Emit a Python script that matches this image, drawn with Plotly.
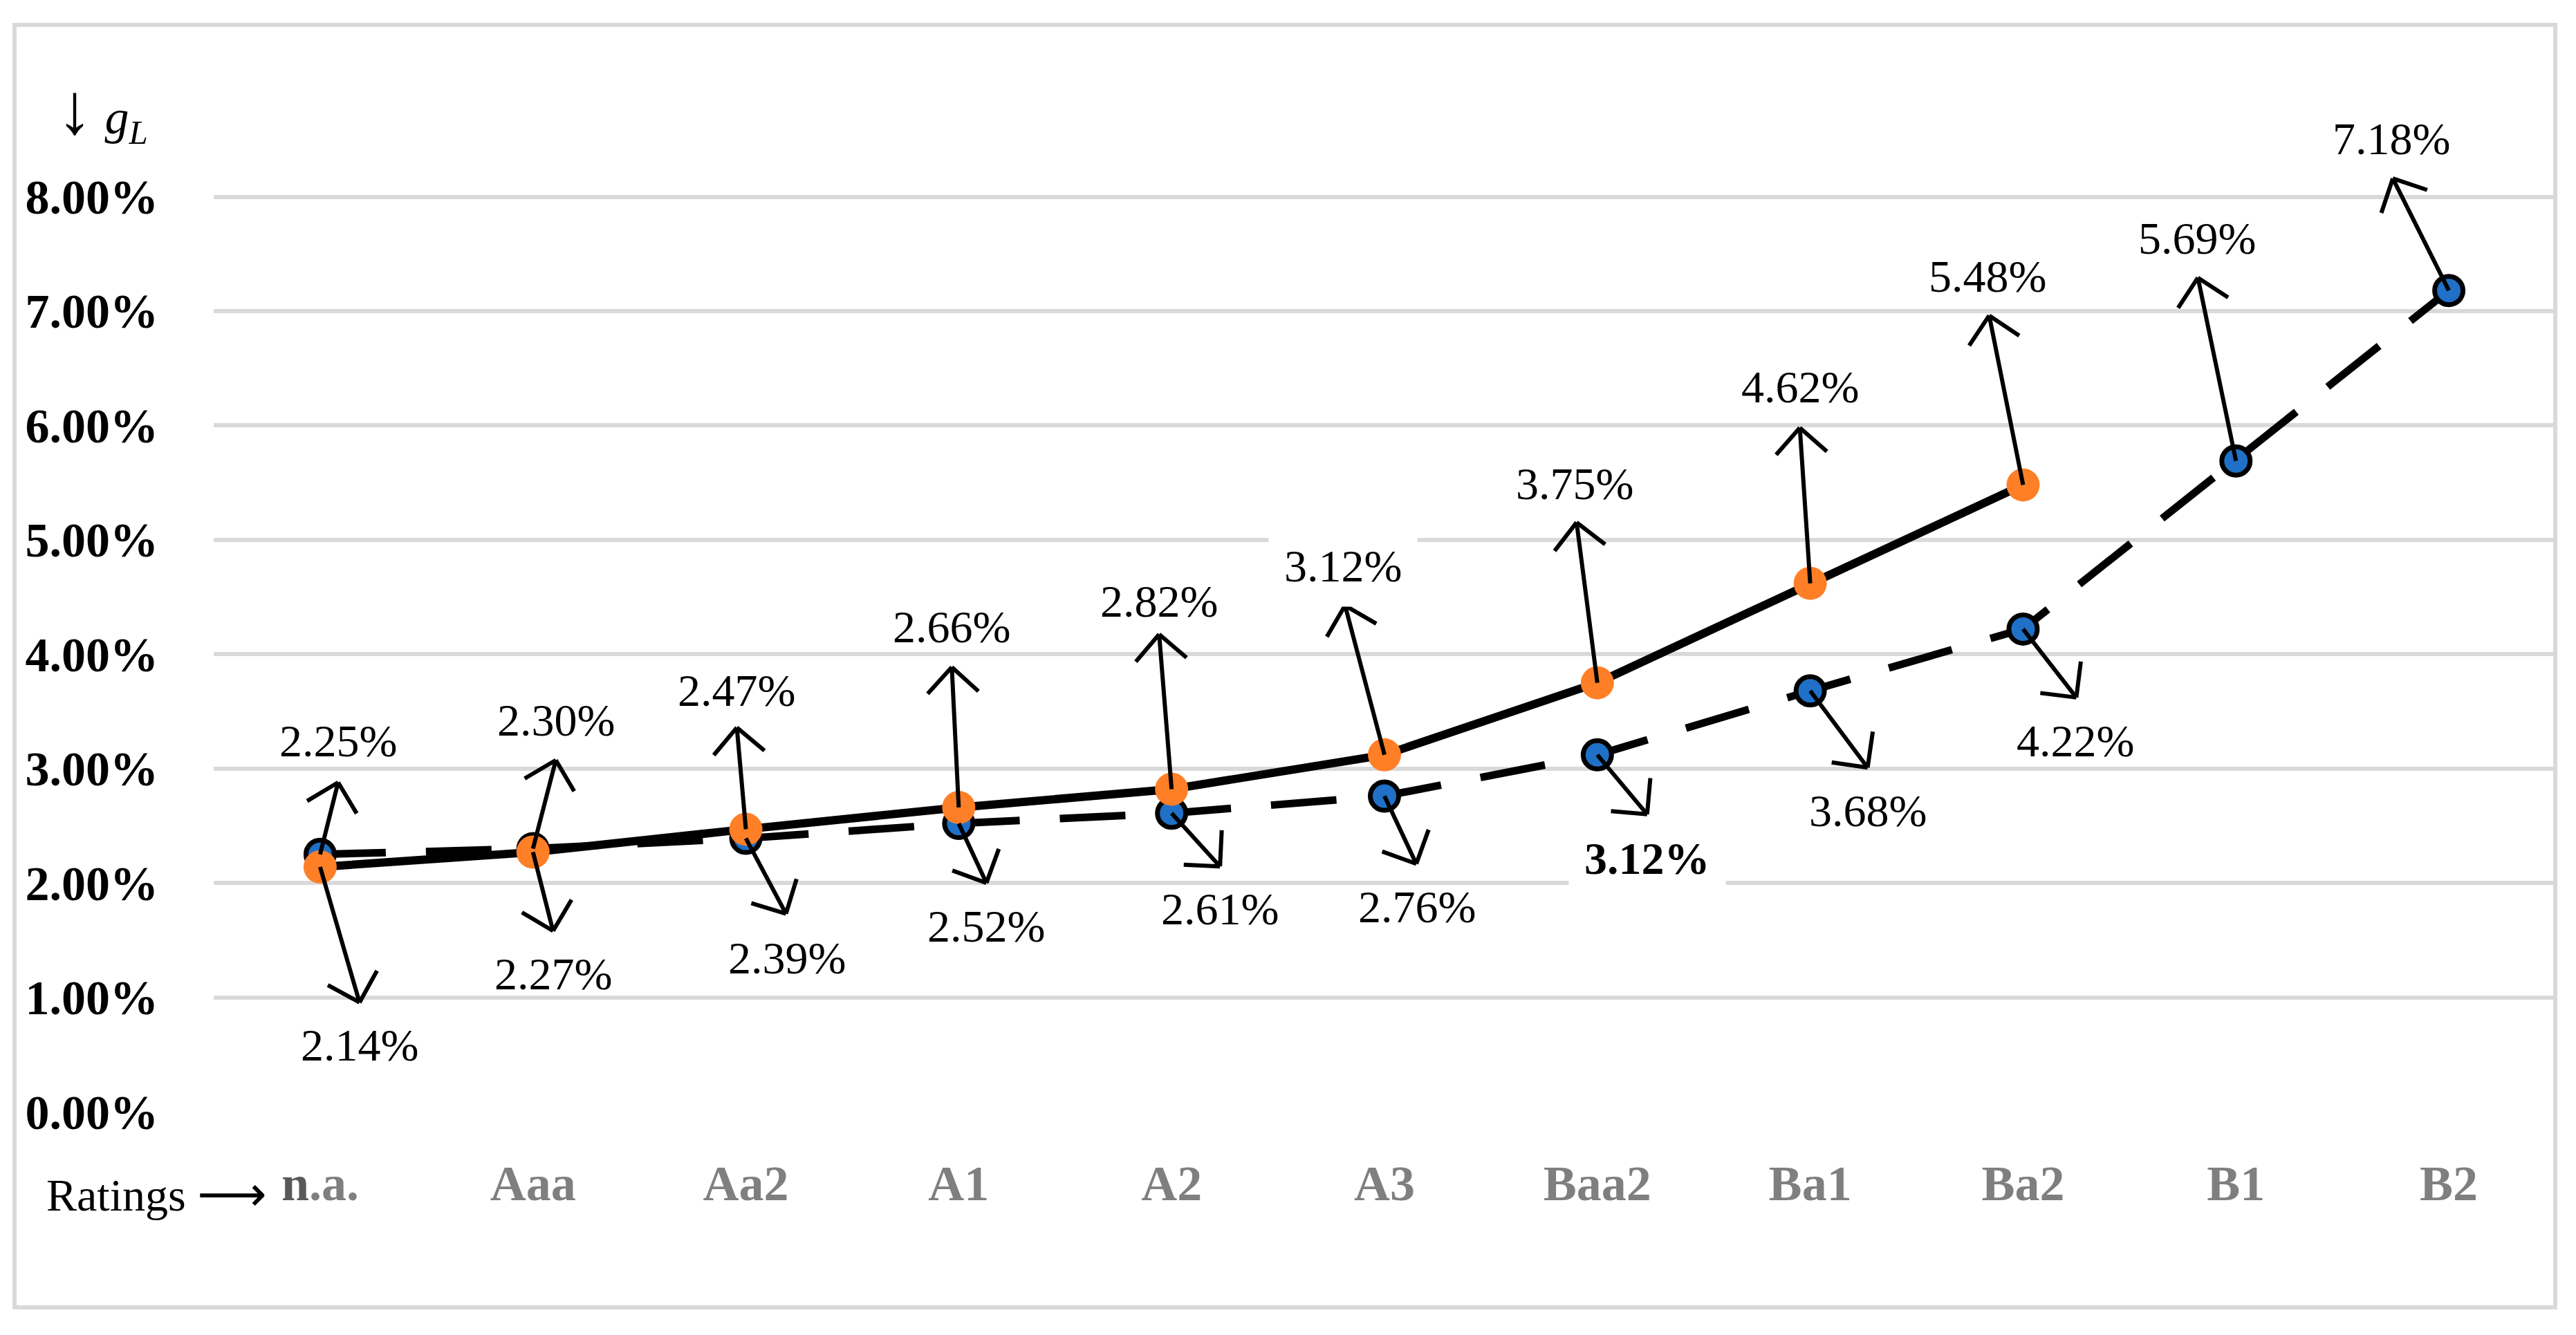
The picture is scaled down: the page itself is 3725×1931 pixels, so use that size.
import math
import plotly.graph_objects as go

# ---------------- data ----------------
categories = ["n.a.", "Aaa", "Aa2", "A1", "A2", "A3", "Baa2", "Ba1", "Ba2", "B1", "B2"]
solid_values = [2.14, 2.27, 2.47, 2.66, 2.82, 3.12, 3.75, 4.62, 5.48]          # orange markers, solid line
dashed_values = [2.25, 2.30, 2.39, 2.52, 2.61, 2.76, 3.12, 3.68, 4.22, 5.69, 7.18]  # blue markers, dashed line
y_ticks = [0, 1, 2, 3, 4, 5, 6, 7, 8]
y_tick_labels = [f"{v:.2f}%" for v in y_ticks]

# ---------------- label / arrow layout (pixel offsets from each marker, y down) ----------------
solid_tips = [(57, 196), (29, 114), (-13, -147), (-10, -203), (-18, -224), (-57, -216),
              (-30, -232), (-15, -225), (-49, -245)]
solid_label_offsets = [(57, 258), (29, 176), (-14, -201), (-10, -261), (-18, -272), (-60, -273),
                       (-33, -288), (-15, -284), (-51, -302)]
dashed_tips = [(26, -104), (33, -128), (58, 109), (40, 86), (70, 77), (46, 98), (72, 86),
               (83, 111), (77, 99), (-55, -265), (-81, -162)]
dashed_label_offsets = [(26, -164), (33, -186), (59, 173), (40, 148), (70, 138), (47, 160),
                        (72, 150), (83, 173), (76, 162), (-56, -322), (-83, -220)]
solid_label_bg = [None, None, None, None, None, "white", None, None, None]
dashed_label_bg = [None, None, None, None, None, None, "white", None, None, None, None]
dashed_label_bold = [False, False, False, False, False, False, True, False, False, False, False]

# ---------------- geometry (page pixels; page body has an 8px margin) ----------------
PAGE_OFF = 8
PLOT_LEFT, PLOT_RIGHT, PLOT_TOP, PLOT_BOTTOM = 309, 3695, 268, 1608
FIG_W, FIG_H = 3725 - PAGE_OFF, 1931 - PAGE_OFF
M_L = PLOT_LEFT - PAGE_OFF
M_T = PLOT_TOP - PAGE_OFF
M_R = FIG_W - (PLOT_RIGHT - PAGE_OFF)
M_B = FIG_H - (PLOT_BOTTOM - PAGE_OFF)
PW = PLOT_RIGHT - PLOT_LEFT
PH = PLOT_BOTTOM - PLOT_TOP


def px(xp):
    return (xp - PLOT_LEFT) / PW


def py(yp):
    return (PLOT_BOTTOM - yp) / PH


SERIF = "Liberation Serif"
ORANGE = "#FF7F27"
BLUE = "#1F70C6"
GRID = "#D9D9D9"
ARM = 54
SHAFT_W = 6

fig = go.Figure()

fig.add_trace(go.Scatter(
    x=categories, y=dashed_values, mode="lines+markers",
    line=dict(color="black", width=11, dash="95px,58px"),
    marker=dict(size=41, color=BLUE, line=dict(color="black", width=7)),
    showlegend=False, hoverinfo="skip"))

fig.add_trace(go.Scatter(
    x=categories[:len(solid_values)], y=solid_values, mode="lines+markers",
    line=dict(color="black", width=12),
    marker=dict(size=48, color=ORANGE),
    showlegend=False, hoverinfo="skip"))


def add_callout(cat, val, tip, lab, bold=False, bg=None):
    tx, ty = tip
    fig.add_annotation(x=cat, y=val, ax=tx, ay=ty, axref="pixel", ayref="pixel",
                       text="", showarrow=True, arrowhead=0, arrowwidth=SHAFT_W,
                       arrowcolor="black", standoff=0, startstandoff=0)
    n = math.hypot(tx, ty)
    ux, uy = tx / n, ty / n
    for s in (1, -1):
        a = math.radians(45 * s)
        rx = ux * math.cos(a) - uy * math.sin(a)
        ry = ux * math.sin(a) + uy * math.cos(a)
        fig.add_annotation(x=cat, y=val, xshift=tx, yshift=-ty,
                           ax=-ARM * rx, ay=-ARM * ry, axref="pixel", ayref="pixel",
                           text="", showarrow=True, arrowhead=0, arrowwidth=SHAFT_W,
                           arrowcolor="black", standoff=0, startstandoff=0)
    lx, ly = lab
    txt = f"{val:.2f}%"
    if bold:
        txt = f"<b>{txt}</b>"
    fig.add_annotation(x=cat, y=val, xshift=lx, yshift=-ly, text=txt, showarrow=False,
                       xanchor="center", yanchor="middle",
                       font=dict(family=SERIF, size=66, color="black"),
                       bgcolor=bg if bg else "rgba(0,0,0,0)", borderpad=22 if bg else 1)


for i, v in enumerate(dashed_values):
    add_callout(categories[i], v, dashed_tips[i], dashed_label_offsets[i],
                bold=dashed_label_bold[i], bg=dashed_label_bg[i])
for i, v in enumerate(solid_values):
    add_callout(categories[i], v, solid_tips[i], solid_label_offsets[i], bg=solid_label_bg[i])

# axis-side texts
fig.add_annotation(xref="paper", yref="paper", x=px(80), y=py(160), xanchor="left", yanchor="middle",
                   text="<span style='font-size:104px'>↓</span> <i>g</i><sub><i>L</i></sub>",
                   showarrow=False, font=dict(family=SERIF, size=70, color="black"))
fig.add_annotation(xref="paper", yref="paper", x=px(388), y=py(1727), xanchor="right", yanchor="middle",
                   text="Ratings <span style='font-family:DejaVu Sans;font-size:70px'>⟶</span>",
                   showarrow=False, font=dict(family=SERIF, size=66, color="black"))

# outer frame
fig.add_shape(type="rect", xref="paper", yref="paper",
              x0=px(21), x1=px(3695), y0=py(1891), y1=py(36),
              line=dict(color=GRID, width=6), layer="below")

tick_text = [f"<span style='color:#595959'>{c[0]}</span>{c[1:]}" if c == "n.a." else c for c in categories]

fig.update_layout(
    width=FIG_W, height=FIG_H,
    margin=dict(l=M_L, r=M_R, t=M_T, b=M_B),
    paper_bgcolor="white", plot_bgcolor="white",
    xaxis=dict(type="category", range=[-0.5, len(categories) - 0.5],
               tickvals=categories, ticktext=tick_text,
               showgrid=False, zeroline=False, showline=False, ticks="",
               ticklabelstandoff=55,
               tickfont=dict(family=SERIF, size=72, color="#7F7F7F", weight="bold")),
    yaxis=dict(range=[0, 8.1], tickvals=y_ticks, ticktext=y_tick_labels,
               showgrid=True, gridcolor=GRID, gridwidth=6, zeroline=False, showline=False,
               ticks="", ticklabelstandoff=79,
               tickfont=dict(family=SERIF, size=70, color="black", weight="bold")),
)

fig.write_html("out.html")
